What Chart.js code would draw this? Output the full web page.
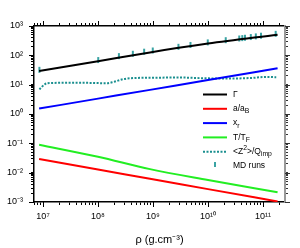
<!DOCTYPE html>
<html>
<head>
<meta charset="utf-8">
<script src="https://cdn.jsdelivr.net/npm/chart.js@4.4.0/dist/chart.umd.min.js"></script>
<style>
    html, body { margin: 0; padding: 0; background: #fff; }
</style>
</head>
<body>
<canvas id="chart" width="300" height="248"></canvas>
<script>
// densities (g/cm3) where the smooth curves were read
let rho = [8.5e6, 1.0e8, 8.8e8, 1.0e10, 1.84e11];
let gammaVals = [29.2, 63, 126, 251, 505];
let aOverAb = [0.0292, 0.0128, 0.0062, 0.00275, 0.00104];
let xr = [1.53, 3.34, 6.65, 14.4, 36];
let tOverTf = [0.0897, 0.0347, 0.0132, 0.00562, 0.00214];

// <Z^2>/Q_imp (dotted)
let rhoZ = [8.6e6, 1.09e7, 1.34e7, 3.1e7, 7.2e7, 1.44e8, 1.9e8, 2.9e8, 4.4e8,
            8.8e8, 3.1e9, 8.8e9, 2.0e10, 5.8e10, 1.1e11, 1.74e11];
let zRatio = [6.9, 10.5, 11.4, 11.6, 11.5, 11.2, 12.3, 15.5, 16.8,
              17.2, 17.5, 16.5, 16.2, 16.8, 18.3, 18.0];

// MD runs
let rhoMD = [8.6e6, 1.01e8, 2.4e8, 4.3e8, 6.9e8, 9.9e8, 2.9e9, 4.8e9, 9.9e9,
             2.1e10, 3.7e10, 4.2e10, 4.7e10, 6.0e10, 7.4e10, 9.2e10, 1.7e11];
let gammaMD = [32, 69, 94, 113, 133, 146, 195, 226, 276,
               328, 375, 386, 397, 420, 442, 466, 540];

let xMin = 6.86e6, xMax = 2.51e11;
let yMin = 1e-3, yMax = 1e3;

const FONT = '"Liberation Sans", Arial, sans-serif';

function pts(xs, ys) {
    return xs.map((x, i) => ({ x: x, y: ys[i] }));
}

function isDecade(v) {
    let l = Math.log10(v);
    return Math.abs(l - Math.round(l)) < 1e-6;
}

const supMap = { "0": "⁰", "1": "¹", "2": "²", "3": "³", "4": "⁴", "5": "⁵",
                 "6": "⁶", "7": "⁷", "8": "⁸", "9": "⁹", "-": "⁻" };
function sup(n) {
    return String(n).split("").map((c) => supMap[c]).join("");
}

function decadeLabel(value) {
    return isDecade(value) ? "10" + sup(Math.round(Math.log10(value))) : "";
}

function logTicks(scale) {
    let ticks = [];
    let e0 = Math.floor(Math.log10(scale.min));
    let e1 = Math.ceil(Math.log10(scale.max));
    for (let e = e0; e <= e1; e++) {
        for (let m = 1; m <= 9; m++) {
            let v = Number((m * Math.pow(10, e)).toPrecision(3));
            if (v >= scale.min * 0.999 && v <= scale.max * 1.001) ticks.push({ value: v });
        }
    }
    scale.ticks = ticks;
}

function fixSize(prop, size) {
    return function (scale) { scale[prop] = size; };
}

// longer ticks at decades
const majorTicks = {
    id: "majorTicks",
    afterDraw(chart) {
        const ctx = chart.ctx;
        const a = chart.chartArea;
        ctx.save();
        ctx.lineWidth = 1;
        ["x", "x2", "y", "y2"].forEach((id) => {
            const s = chart.scales[id];
            ctx.strokeStyle = id === "y2" ? "#333" : "#000";
            s.ticks.forEach((t) => {
                if (!isDecade(t.value)) return;
                const p = Math.round(s.getPixelForValue(t.value)) + 0.5;
                ctx.beginPath();
                if (id === "x") { ctx.moveTo(p, a.bottom); ctx.lineTo(p, a.bottom + 5); }
                if (id === "x2") { ctx.moveTo(p, a.top); ctx.lineTo(p, a.top - 5); }
                if (id === "y") { ctx.moveTo(a.left, p); ctx.lineTo(a.left - 5, p); }
                if (id === "y2") { ctx.moveTo(a.right, p); ctx.lineTo(a.right + 5, p); }
                ctx.stroke();
            });
        });
        ctx.restore();
    }
};

function drawRich(ctx, str, x, y, size) {
    const parts = str.split(/([_^]\{[^}]*\})/).filter((s) => s);
    parts.forEach((p) => {
        let txt = p, fs = size, dy = 0;
        if (p[0] === "_") { txt = p.slice(2, -1); fs = size * 0.8; dy = size * 0.3; }
        if (p[0] === "^") { txt = p.slice(2, -1); fs = size * 0.8; dy = -size * 0.4; }
        ctx.font = fs + "px " + FONT;
        ctx.fillText(txt, x, y + dy);
        x += ctx.measureText(txt).width;
    });
}

// legend with sub/superscripts
const richLegend = {
    id: "richLegend",
    afterDraw(chart) {
        const ctx = chart.ctx;
        ctx.save();
        ctx.textBaseline = "middle";
        ctx.fillStyle = "#000";
        chart.data.datasets.forEach((ds, i) => {
            const y = 94.5 + i * 14.3;
            ctx.strokeStyle = ds.borderColor;
            ctx.lineWidth = 2;
            ctx.beginPath();
            if (ds.type === "scatter") {
                ctx.moveTo(215, y - 4);
                ctx.lineTo(215, y + 1);
            } else {
                ctx.setLineDash(ds.borderDash || []);
                ctx.moveTo(203, y);
                ctx.lineTo(227, y);
            }
            ctx.stroke();
            ctx.setLineDash([]);
            drawRich(ctx, ds.label, 233, y, 8.5);
        });
        ctx.restore();
    }
};

function axis(position, showLabels, extra) {
    return Object.assign({
        type: "logarithmic",
        position: position,
        afterBuildTicks: logTicks,
        grid: { drawOnChartArea: false, drawTicks: true, tickLength: 3, color: "#000", tickColor: "#000" },
        border: { display: true, color: "#000", width: 1.5 },
        ticks: {
            display: showLabels,
            autoSkip: false,
            maxRotation: 0,
            color: "#000",
            font: { family: FONT, size: 9 },
            callback: decadeLabel
        }
    }, extra);
}

const scales = {
    x: axis("bottom", true, {
        min: xMin, max: xMax, afterFit: fixSize("height", 46),
        title: { display: true, text: "ρ (g.cm⁻³)", color: "#000",
                 font: { family: FONT, size: 11 }, padding: { top: 0, bottom: 1 } }
    }),
    x2: axis("top", false, { min: xMin, max: xMax, afterFit: fixSize("height", 26) }),
    y: axis("left", true, { min: yMin, max: yMax, afterFit: fixSize("width", 34) }),
    y2: axis("right", false, { min: yMin, max: yMax, afterFit: fixSize("width", 15) })
};
scales.x.ticks.padding = 6;
scales.y.ticks.padding = 8;
scales.y2.border = { display: true, color: "#999", width: 2 };
scales.y2.grid.tickColor = "#333";

let ctx = document.getElementById("chart").getContext("2d");
let chart = new Chart(ctx, {
    type: "line",
    data: {
        datasets: [
            { label: "Γ", data: pts(rho, gammaVals), borderColor: "#000", borderWidth: 2 },
            { label: "a/a_{B}", data: pts(rho, aOverAb), borderColor: "#ff0000", borderWidth: 2 },
            { label: "x_{r}", data: pts(rho, xr), borderColor: "#0000ff", borderWidth: 2 },
            { label: "T/T_{F}", data: pts(rho, tOverTf), borderColor: "#22ee22", borderWidth: 2 },
            { label: "<Z^{2}>/Q_{imp}", data: pts(rhoZ, zRatio), borderColor: "#1a8f8f",
              borderWidth: 2, borderDash: [2, 1.5] },
            { label: "MD runs", type: "scatter", data: pts(rhoMD, gammaMD), borderColor: "#3aa3a3",
              showLine: false, pointStyle: "line", rotation: 90, pointRadius: 3, borderWidth: 2 }
        ]
    },
    options: {
        responsive: false,
        animation: false,
        layout: { padding: 0 },
        elements: { point: { radius: 0 }, line: { tension: 0, cubicInterpolationMode: "monotone" } },
        plugins: { legend: { display: false }, tooltip: { enabled: false } },
        scales: scales
    },
    plugins: [majorTicks, richLegend]
});
</script>
</body>
</html>
